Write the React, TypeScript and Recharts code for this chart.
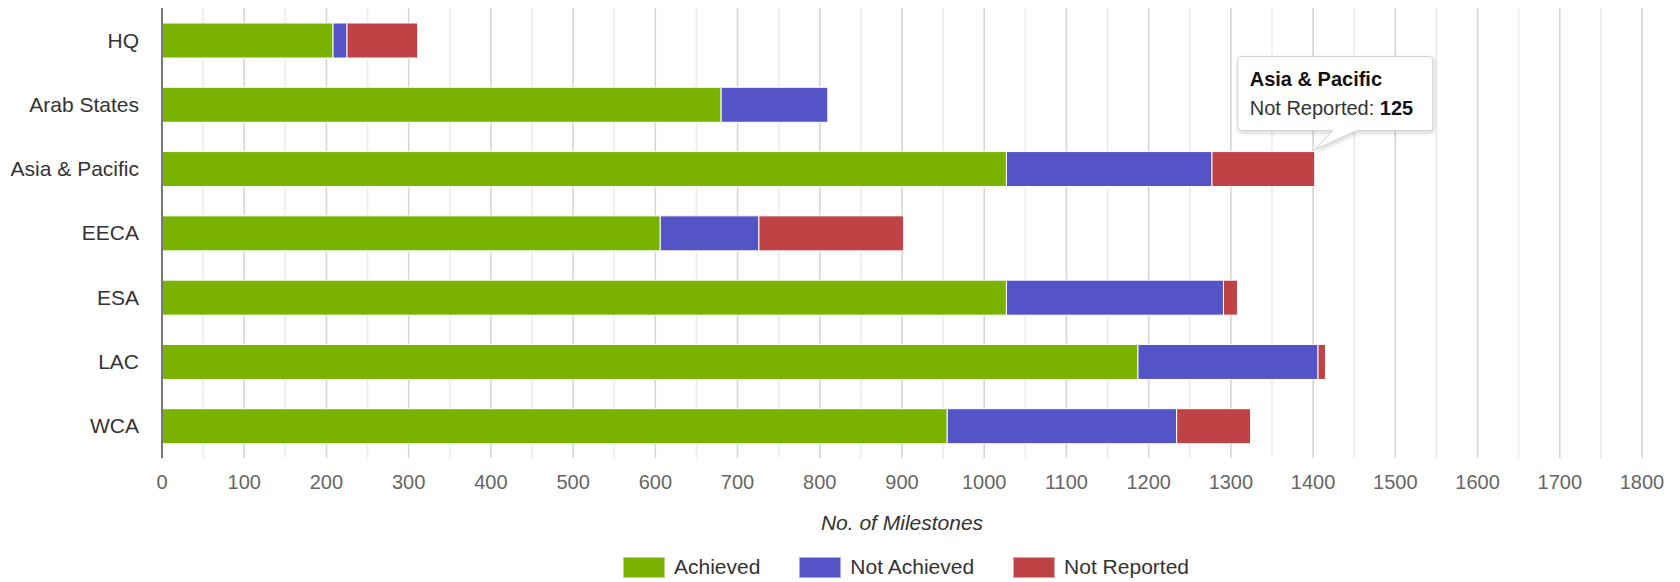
import React from 'react';
import { BarChart, Bar, XAxis, YAxis, CartesianGrid, Legend, Label } from 'recharts';

const categories = ['HQ', 'Arab States', 'Asia & Pacific', 'EECA', 'ESA', 'LAC', 'WCA'];
const achieved = [208, 680, 1027, 606, 1027, 1187, 955];
const notAchieved = [17, 130, 250, 120, 264, 219, 279];
const notReported = [86, 1, 125, 176, 17, 9, 90];
const xTicks = [
  0, 50, 100, 150, 200, 250, 300, 350, 400, 450, 500, 550, 600, 650, 700, 750, 800, 850, 900,
  950, 1000, 1050, 1100, 1150, 1200, 1250, 1300, 1350, 1400, 1450, 1500, 1550, 1600, 1650,
  1700, 1750, 1800,
];
const seriesKeys = ['achieved', 'notAchieved', 'notReported'];
const seriesNames = ['Achieved', 'Not Achieved', 'Not Reported'];
const seriesColors = ['#7ab200', '#5454c6', '#bf4244'];
const tooltipCategory = 'Asia & Pacific';
const axisTitle = 'No. of Milestones';

const data = categories.map((c, i) => ({
  name: c,
  achieved: achieved[i],
  notAchieved: notAchieved[i],
  notReported: notReported[i],
}));

const FONT = '"Liberation Sans", Arial, Helvetica, sans-serif';

const gridLine = (p: any) => {
  const pts = p.verticalPoints || [];
  const off = pts.length === xTicks.length ? 0 : 1;
  const major = (p.index + off) % 2 === 0;
  return (
    <line
      key={p.key}
      x1={p.x1}
      y1={p.y1}
      x2={p.x2}
      y2={p.y2}
      stroke={major ? '#d6d6d6' : '#ececec'}
      strokeWidth={1.6}
      fill="none"
    />
  );
};

const Callout = ({ tx, ty, title, label, value }: any) => {
  const L = tx - 77;
  const R = tx + 118;
  const T = ty - 93;
  const B = ty - 19;
  const r = 3;
  const d = `M ${L + r} ${T} H ${R - r} Q ${R} ${T} ${R} ${T + r} V ${B - r} Q ${R} ${B} ${R - r} ${B} H ${tx + 42} L ${tx} ${ty} L ${tx + 18} ${B} H ${L + r} Q ${L} ${B} ${L} ${B - r} V ${T + r} Q ${L} ${T} ${L + r} ${T} Z`;
  return (
    <g>
      <defs>
        <filter id="tipShadow" x="-20%" y="-20%" width="140%" height="150%">
          <feDropShadow dx="1" dy="2" stdDeviation="2" floodColor="#000" floodOpacity="0.18" />
        </filter>
      </defs>
      <path d={d} fill="#ffffff" stroke="#cfcfcf" strokeWidth={1} filter="url(#tipShadow)" />
      <text x={L + 12} y={T + 29} fontSize={20} fontWeight="bold" fill="#111" fontFamily={FONT}>
        {title}
      </text>
      <text x={L + 12} y={T + 58} fontSize={20} fill="#333" fontFamily={FONT}>
        <tspan>{label}: </tspan>
        <tspan fontWeight="bold" fill="#111">{value}</tspan>
      </text>
    </g>
  );
};

const NotReportedShape = (props: any) => {
  const { x, y, width, height, fill, index, payload } = props;
  const name = payload && payload.name ? payload.name : categories[index];
  const show = name === tooltipCategory;
  return (
    <g>
      <rect x={x} y={y} width={Math.max(0, width)} height={height} fill={fill} stroke="#ffffff" strokeWidth={1} />
      {show && (
        <Callout
          tx={x + width}
          ty={y - 2}
          title={name}
          label={seriesNames[2]}
          value={payload ? payload.notReported : notReported[index]}
        />
      )}
    </g>
  );
};

const renderLegend = () => (
  <div
    style={{
      display: 'flex',
      justifyContent: 'center',
      alignItems: 'center',
      height: 30,
      fontFamily: FONT,
      fontSize: 21,
      color: '#333',
    }}
  >
    {seriesNames.map((n, i) => (
      <div key={n} style={{ display: 'flex', alignItems: 'center', marginLeft: i ? 39 : 0 }}>
        <span
          style={{
            display: 'inline-block',
            width: 42,
            height: 21,
            background: seriesColors[i],
            marginRight: 9,
            boxSizing: 'border-box',
            border: '1px solid rgba(255,255,255,0.5)',
          }}
        />
        <span>{n}</span>
      </div>
    ))}
  </div>
);

export default function App() {
  return (
    <div style={{ width: 1664, height: 574, fontFamily: FONT, position: 'relative' }}>
      <BarChart
        width={1664}
        height={574}
        data={data}
        layout="vertical"
        margin={{ top: 0, right: 30, bottom: 0, left: 0 }}
        barSize={35}
      >
        <CartesianGrid horizontal={false} syncWithTicks vertical={gridLine} />
        <XAxis
          type="number"
          domain={[0, 1800]}
          ticks={xTicks}
          interval={0}
          tickFormatter={(v: number) => (v % 100 === 0 ? String(v) : '')}
          axisLine={false}
          tickLine={false}
          tickMargin={11}
          height={94}
          tick={{ fill: '#666', fontSize: 20 }}
        >
          <Label
            value={axisTitle}
            position="insideBottom"
            offset={22}
            fill="#333"
            fontSize={21}
            fontStyle="italic"
            style={{ fontStyle: 'italic', fontSize: 21, fill: '#333' }}
          />
        </XAxis>
        <YAxis
          type="category"
          dataKey="name"
          width={154}
          axisLine={{ stroke: '#777', strokeWidth: 2 }}
          tickLine={false}
          tickMargin={17}
          tick={{ fill: '#333', fontSize: 21 }}
        />
        <Legend
          verticalAlign="bottom"
          content={renderLegend}
          wrapperStyle={{ left: 158, width: 1480, height: 30 }}
        />
        <Bar
          dataKey={seriesKeys[0]}
          name={seriesNames[0]}
          stackId="a"
          fill={seriesColors[0]}
          stroke="#ffffff"
          strokeWidth={1}
          isAnimationActive={false}
        />
        <Bar
          dataKey={seriesKeys[1]}
          name={seriesNames[1]}
          stackId="a"
          fill={seriesColors[1]}
          stroke="#ffffff"
          strokeWidth={1}
          isAnimationActive={false}
        />
        <Bar
          dataKey={seriesKeys[2]}
          name={seriesNames[2]}
          stackId="a"
          fill={seriesColors[2]}
          shape={NotReportedShape}
          isAnimationActive={false}
        />
      </BarChart>
    </div>
  );
}
